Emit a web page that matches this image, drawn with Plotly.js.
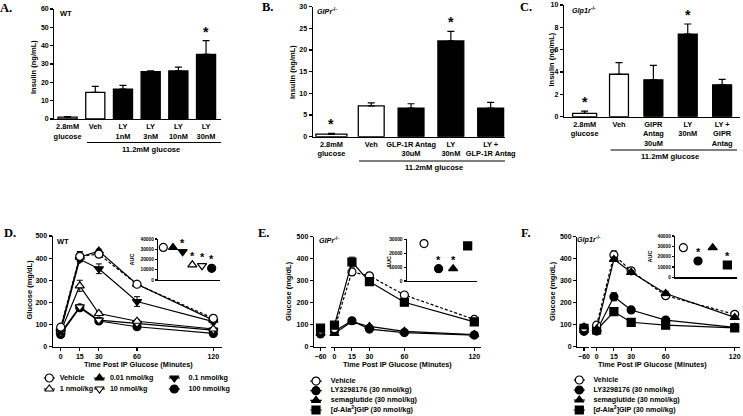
<!DOCTYPE html>
<html><head><meta charset="utf-8">
<script src="https://cdn.plot.ly/plotly-3.0.1.min.js"></script>
<style>html,body{margin:0;padding:0;background:#fff}#chart{width:743px;height:416px}</style>
</head><body><div id="chart"></div>
<script>
// ================= DATA =================
// Panel A (WT islets)
const aCategories = ['2.8mM<br>glucose','Veh','LY<br>1nM','LY<br>3nM','LY<br>10nM','LY<br>30nM'];
const aInsulin = [1.0, 14.5, 16.3, 25.8, 26.2, 35.3];
const aSem = [0.3, 3.3, 2.0, 0.4, 2.1, 7.4];
const aSignificant = [false, false, false, false, false, true];

// Panel B (GIPr-/- islets)
const bCategories = ['2.8mM<br>glucose','Veh','GLP-1R Antag<br>30uM','LY<br>30nM','LY +<br>GLP-1R Antag'];
const bInsulin = [0.6, 7.1, 6.6, 22.1, 6.6];
const bSem = [0.2, 0.7, 1.0, 2.2, 1.3];
const bSignificant = [true, false, false, true, false];

// Panel C (Glp1r-/- islets)
const cCategories = ['2.8mM<br>glucose','Veh','GIPR<br>Antag<br>30uM','LY<br>30nM','LY +<br>GIPR<br>Antag'];
const cInsulin = [0.3, 3.8, 3.3, 7.4, 2.85];
const cSem = [0.2, 1.05, 1.3, 0.9, 0.5];
const cSignificant = [true, false, false, true, false];

// Panel D (WT ipGTT)
const dTimes = [0, 15, 30, 60, 120];
const dNames = ['Vehicle','0.01 nmol/kg','0.1 nmol/kg','1 nmol/kg','10 nmol/kg','100 nmol/kg'];
const dVehicle = [88, 408, 418, 282, 128];
const dVehicleSem = [8, 22, 8, 10, 6];
const dDose001 = [82, 405, 432, 282, 120];
const dDose001Sem = [6, 18, 8, 8, 6];
const dDose01 = [72, 395, 352, 204, 113];
const dDose01Sem = [6, 12, 22, 22, 10];
const dDose1 = [68, 275, 150, 115, 80];
const dDose1Sem = [5, 25, 8, 6, 5];
const dDose10 = [62, 180, 120, 105, 75];
const dDose10Sem = [5, 8, 6, 5, 4];
const dDose100 = [55, 176, 116, 90, 60];
const dDose100Sem = [5, 8, 6, 5, 4];
const dAuc = [31800, 31700, 27600, 14800, 14000, 11400];
const dAucSem = [800, 1000, 2000, 1500, 1000, 800];
const dAucSignificant = [false, false, true, true, true, true];

// Panel E (GIPr-/- ipGTT)
const eTimes = [-60, 0, 15, 30, 60, 120];
const eNames = ['Vehicle','LY3298176 (30 nmol/kg)','semaglutide (30 nmol/kg)','[<i>d</i>-Ala<sup>2</sup>]GIP (30 nmol/kg)'];
const eVehicle = [75, 82, 340, 322, 235, 124];
const eVehicleSem = [6, 8, 15, 10, 10, 6];
const eLY = [58, 70, 118, 80, 64, 53];
const eLYSem = [6, 6, 8, 6, 5, 4];
const eSema = [62, 60, 114, 92, 70, 55];
const eSemaSem = [6, 8, 8, 6, 5, 4];
const eGIP = [84, 98, 385, 296, 202, 113];
const eGIPSem = [8, 10, 22, 18, 10, 8];
const eAuc = [26900, 8900, 8900, 25200];
const eAucSem = [800, 700, 700, 900];
const eAucSignificant = [false, true, true, false];

// Panel F (Glp1r-/- ipGTT)
const fTimes = [-60, 0, 15, 30, 60, 120];
const fNames = ['Vehicle','LY3298176 (30 nmol/kg)','semaglutide (30 nmol/kg)','[<i>d</i>-Ala<sup>2</sup>]GIP (30 nmol/kg)'];
const fVehicle = [86, 98, 417, 345, 232, 147];
const fVehicleSem = [6, 10, 18, 10, 10, 8];
const fLY = [70, 71, 227, 167, 121, 88];
const fLYSem = [6, 6, 18, 8, 8, 5];
const fSema = [90, 80, 397, 338, 242, 133];
const fSemaSem = [6, 6, 10, 8, 10, 6];
const fGIP = [83, 76, 159, 111, 98, 86];
const fGIPSem = [6, 6, 6, 5, 5, 4];
const fAuc = [28700, 15800, 28700, 11900];
const fAucSem = [900, 900, 900, 700];
const fAucSignificant = [false, true, false, true];

// ================= STYLE / LAYOUT HELPERS =================
const W = 743, H = 416;
const px = v => v / W;
const py = v => 1 - v / H;
const SANS = 'Liberation Sans, Arial, sans-serif';
const SERIF = 'Liberation Serif, Times New Roman, serif';
const tf = (s, extra) => Object.assign({family: SANS, size: s, color: '#000', weight: 700}, extra || {});

const axBase = {showgrid:false, zeroline:false, showline:true, linecolor:'#000', linewidth:1.2,
  ticks:'outside', ticklen:3, tickwidth:1.1, tickcolor:'#000', tickfont: tf(7), fixedrange:true};
const ax = o => Object.assign({}, axBase, o);
const hidden = o => Object.assign({visible:false, fixedrange:true}, o);

const data = [];
const annotations = [];
const shapes = [];

function bars(cats, vals, errs, xa, ya, widths) {
  data.push({type:'bar', x: cats, y: vals, xaxis: xa, yaxis: ya, width: widths,
    marker: {color: vals.map((v, i) => i < 2 ? '#fff' : '#000'), line: {color:'#000', width:1.3}},
    error_y: {type:'data', symmetric:false, array: errs, arrayminus: errs.map(() => 0),
      color:'#000', thickness:1.2, width:3.5},
    showlegend:false, hoverinfo:'skip'});
}
function stars(flags, vals, errs, xa, ya, size, shift) {
  flags.forEach((f, i) => {
    if (!f) return;
    annotations.push({xref: xa, yref: ya, x: i, y: vals[i] + errs[i], text:'*', showarrow:false,
      yanchor:'bottom', xanchor:'center', yshift: shift, font: tf(size)});
  });
}
function series(xs, ys, errs, xa, ya, sym, fill, dash) {
  data.push({type:'scatter', mode:'lines+markers', x: xs, y: ys, xaxis: xa, yaxis: ya,
    line: {color:'#000', width:1.2, dash: dash || 'solid'},
    marker: {symbol: sym, size: 8, color: fill, line: {color:'#000', width:1.2}},
    error_y: {type:'data', array: errs, color:'#000', thickness:1, width:3},
    cliponaxis:false, showlegend:false, hoverinfo:'skip'});
}
function brokenSeries(xs, ys, errs, xaPre, xaMain, ya, sym, fill, dash) {
  data.push({type:'scatter', mode:'markers', x: xs.slice(0, 1), y: ys.slice(0, 1), xaxis: xaPre, yaxis: ya,
    marker: {symbol: sym, size: 8, color: fill, line: {color:'#000', width:1.2}},
    error_y: {type:'data', array: errs.slice(0, 1), color:'#000', thickness:1, width:3},
    cliponaxis:false, showlegend:false, hoverinfo:'skip'});
  series(xs.slice(1), ys.slice(1), errs.slice(1), xaMain, ya, sym, fill, dash);
}
function auc(names, vals, errs, xa, ya, syms, fills) {
  data.push({type:'scatter', mode:'markers', x: names, y: vals, xaxis: xa, yaxis: ya,
    marker: {symbol: syms, size: 8, color: fills, line: {color:'#000', width:1.2}},
    error_y: {type:'data', array: errs, color:'#000', thickness:1, width:2},
    cliponaxis:false, showlegend:false, hoverinfo:'skip'});
}
// legend column: symbol with a short line through it, label pushed right by an invisible marker
function legendColumn(names, xa, ya, syms, fills, gap) {
  const xs = names.map(() => 0), ys = names.map((n, i) => i);
  data.push({type:'scatter', mode:'markers', x: xs, y: ys, xaxis: xa, yaxis: ya,
    marker: {symbol: syms, size: 8, color: fills, line: {color:'#000', width:1.2}},
    error_x: {type:'constant', value: 0.95, width:0, thickness:1.2, color:'#000'},
    cliponaxis:false, showlegend:false, hoverinfo:'skip'});
  data.push({type:'scatter', mode:'markers+text', x: xs, y: ys, text: names, textposition:'middle right',
    textfont: tf(7.2), xaxis: xa, yaxis: ya,
    marker: {size: gap, color:'rgba(0,0,0,0)', line:{width:0}},
    cliponaxis:false, showlegend:false, hoverinfo:'skip'});
}
function ann(text, x, y, font, extra) {
  annotations.push(Object.assign({text, x: px(x), y: py(y), xref:'paper', yref:'paper', showarrow:false,
    xanchor:'center', yanchor:'middle', font}, extra || {}));
}

// ================= TRACES =================
bars(aCategories, aInsulin, aSem, 'x', 'y', aInsulin.map(() => 0.69));
stars(aSignificant, aInsulin, aSem, 'x', 'y', 14, -1);
bars(bCategories, bInsulin, bSem, 'x2', 'y2', bInsulin.map((v, i) => i === 0 ? 0.78 : 0.65));
stars(bSignificant, bInsulin, bSem, 'x2', 'y2', 14, -1);
bars(cCategories, cInsulin, cSem, 'x3', 'y3', cInsulin.map((v, i) => i === 0 ? 0.70 : 0.55));
stars(cSignificant, cInsulin, cSem, 'x3', 'y3', 14, -1);

const dSymbols = ['circle','triangle-up','triangle-down','triangle-up','triangle-down','circle'];
const dFills = ['#fff','#000','#000','#fff','#fff','#000'];
const dSeries = [dVehicle, dDose001, dDose01, dDose1, dDose10, dDose100];
const dSems = [dVehicleSem, dDose001Sem, dDose01Sem, dDose1Sem, dDose10Sem, dDose100Sem];
[5, 4, 3, 2, 1, 0].forEach(i => series(dTimes, dSeries[i], dSems[i], 'x4', 'y4', dSymbols[i], dFills[i], i === 0 ? '3px,2px' : 'solid'));
auc(dNames, dAuc, dAucSem, 'x5', 'y5', dSymbols, dFills);
stars(dAucSignificant, dAuc, dAuc.map(() => 0), 'x5', 'y5', 11, 1);

const efSymbols = ['circle','circle','triangle-up','square'];
const efFills = ['#fff','#000','#000','#000'];
const eSeries = [eVehicle, eLY, eSema, eGIP];
const eSems = [eVehicleSem, eLYSem, eSemaSem, eGIPSem];
[1, 2, 0, 3].forEach(i => brokenSeries(eTimes, eSeries[i], eSems[i], 'x7', 'x6', 'y6', efSymbols[i], efFills[i], i === 0 ? '3px,2px' : 'solid'));
auc(eNames, eAuc, eAucSem, 'x8', 'y8', efSymbols, efFills);
stars(eAucSignificant, eAuc, eAuc.map(() => 0), 'x8', 'y8', 11, 1);

const fSeries = [fVehicle, fLY, fSema, fGIP];
const fSems = [fVehicleSem, fLYSem, fSemaSem, fGIPSem];
[3, 1, 0, 2].forEach(i => brokenSeries(fTimes, fSeries[i], fSems[i], 'x10', 'x9', 'y9', efSymbols[i], efFills[i], i === 0 ? '3px,2px' : 'solid'));
auc(fNames, fAuc, fAucSem, 'x11', 'y11', efSymbols, efFills);
stars(fAucSignificant, fAuc, fAuc.map(() => 0), 'x11', 'y11', 11, 1);

// legends: D in three columns of two rows, E and F single columns
const dLegendAxes = ['x12', 'x15', 'x16'];
const dLegendGaps = [15, 15, 21];
[0, 1, 2].forEach(c => {
  const idx = [c, c + 3];
  legendColumn(idx.map(i => dNames[i]), dLegendAxes[c], 'y12', idx.map(i => dSymbols[i]), idx.map(i => dFills[i]), dLegendGaps[c]);
});
legendColumn(eNames, 'x13', 'y13', efSymbols, efFills, 22);
legendColumn(fNames, 'x14', 'y14', efSymbols, efFills, 21);

// ================= ANNOTATIONS =================
const letterFont = {family: SERIF, size: 12.5, color:'#000', weight: 700};
ann('A.', 6.5, 8, letterFont);
ann('B.', 267, 7, letterFont);
ann('C.', 526, 7, letterFont);
ann('D.', 9.5, 233, letterFont);
ann('E.', 263.5, 233, letterFont);
ann('F.', 525.5, 233, letterFont);

ann('WT', 65.5, 13, tf(7.5));
ann('<i>GIPr</i><sup>-/-</sup>', 327, 11, tf(7.2));
ann('<i>Glp1r</i><sup>-/-</sup>', 584, 10, tf(7.2));
ann('WT', 63, 241, tf(7.5));
ann('<i>GIPr</i><sup>-/-</sup>', 329, 240, tf(7.2));
ann('<i>Glp1r</i><sup>-/-</sup>', 589, 239, tf(7.2));

ann('Insulin (ng/mL)', 33, 67, tf(7.5), {textangle:-90});
ann('Insulin (ng/mL)', 292, 72, tf(7.5), {textangle:-90});
ann('Insulin (ng/mL)', 551.5, 60, tf(7.5), {textangle:-90});
ann('Glucose (mg/dL)', 28.5, 290, tf(7.5), {textangle:-90});
ann('Glucose (mg/dL)', 288, 291, tf(7.5), {textangle:-90});
ann('Glucose (mg/dL)', 552, 291, tf(7.5), {textangle:-90});

ann('Time Post IP Glucose (Minutes)', 138, 364.5, tf(7.3));
ann('Time Post IP Glucose (Minutes)', 397, 364.5, tf(7.3));
ann('Time Post IP Glucose (Minutes)', 652, 364.5, tf(7.3));

ann('AUC', 131.5, 260, tf(5.5), {textangle:-90});
ann('AUC', 389, 262, tf(5.5), {textangle:-90});
ann('AUC', 649.5, 257, tf(5.5), {textangle:-90});

ann('11.2mM glucose', 150.5, 149.5, tf(7.6));
ann('11.2mM glucose', 434, 167.5, tf(7.6));
ann('11.2mM glucose', 670, 156, tf(7.6));

const uline = (x0, x1, y) => shapes.push({type:'line', xref:'paper', yref:'paper', x0: px(x0), x1: px(x1), y0: py(y), y1: py(y), line:{color:'#000', width:1.1}});
uline(87, 221, 142.5);
uline(359, 505, 161);
uline(610.5, 737, 150);

// ================= AXES =================
const catAx = o => ax(Object.assign({type:'category', ticks:'', tickfont: tf(7.4)}, o));
const legendX = (center, ya) => hidden({domain:[px(center - 6), px(center + 6)], range:[-1, 1], anchor: ya});
const layout = {
  width: W, height: H, margin: {l:0, r:0, t:0, b:0}, paper_bgcolor:'#fff', plot_bgcolor:'rgba(0,0,0,0)',
  showlegend:false, bargap:0,
  xaxis:  catAx({domain:[px(54.3), px(221)], range:[-0.48, 5.54], anchor:'y'}),
  yaxis:  ax({domain:[py(119), py(9)], range:[0, 60], dtick:10, anchor:'x'}),
  xaxis2: catAx({domain:[px(312.7), px(505)], range:[-0.47, 4.36], anchor:'y2'}),
  yaxis2: ax({domain:[py(136.7), py(6.7)], range:[0, 30], dtick:5, anchor:'x2'}),
  xaxis3: catAx({domain:[px(564), px(740)], range:[-0.6, 4.52], anchor:'y3'}),
  yaxis3: ax({domain:[py(116.7), py(5)], range:[0, 10], dtick:2, anchor:'x3'}),

  xaxis4: ax({domain:[px(52.7), px(221.7)], range:[-6.3, 126.6], tickvals: dTimes, anchor:'y4'}),
  yaxis4: ax({domain:[py(346.7), py(236)], range:[0, 500], dtick:100, anchor:'x4'}),
  xaxis5: ax({type:'category', domain:[px(158), px(220)], range:[-0.55, 5.86], ticks:'', showticklabels:false, anchor:'y5'}),
  yaxis5: ax({domain:[py(280), py(239)], range:[0, 40000], dtick:10000, tickformat:'d', ticklen:2, tickfont: tf(4.8), anchor:'x5'}),

  xaxis6: ax({domain:[px(330.5), px(480.7)], range:[-3.4, 125.5], tickvals: eTimes.slice(1), anchor:'y6'}),
  xaxis7: ax({domain:[px(312.7), px(326)], range:[-66.7, -55.3], tickvals: eTimes.slice(0, 1), anchor:'y6'}),
  yaxis6: ax({domain:[py(346.7), py(236.7)], range:[0, 500], dtick:100, anchor:'free', position: px(312.7)}),
  xaxis8: ax({type:'category', domain:[px(406.7), px(477)], range:[-1.19, 3.64], ticks:'', showticklabels:false, anchor:'y8'}),
  yaxis8: ax({domain:[py(281), py(239.3)], range:[0, 30000], dtick:10000, tickformat:'d', ticklen:2, tickfont: tf(4.8), anchor:'x8'}),

  xaxis9:  ax({domain:[px(591), px(740)], range:[-4.9, 124.6], tickvals: fTimes.slice(1), anchor:'y9'}),
  xaxis10: ax({domain:[px(576), px(589)], range:[-66.9, -55.7], tickvals: fTimes.slice(0, 1), anchor:'y9'}),
  yaxis9:  ax({domain:[py(346.7), py(236.7)], range:[0, 500], dtick:100, anchor:'free', position: px(576)}),
  xaxis11: ax({type:'category', domain:[px(675), px(737)], range:[-0.57, 3.66], ticks:'', showticklabels:false, anchor:'y11'}),
  yaxis11: ax({domain:[py(277.3), py(236)], range:[0, 40000], dtick:10000, tickformat:'d', ticklen:2, tickfont: tf(4.8), anchor:'x11'}),

  xaxis12: legendX(49.3, 'y12'),
  xaxis15: legendX(99.5, 'y12'),
  xaxis16: legendX(174.3, 'y12'),
  yaxis12: hidden({domain:[py(394.5), py(372.5)], range:[1.5, -0.5], anchor:'x12'}),
  xaxis13: legendX(316, 'y13'),
  yaxis13: hidden({domain:[py(414.8), py(376.2)], range:[3.5, -0.5], anchor:'x13'}),
  xaxis14: legendX(579.3, 'y14'),
  yaxis14: hidden({domain:[py(415), py(375)], range:[3.5, -0.5], anchor:'x14'}),

  annotations, shapes
};

Plotly.newPlot('chart', data, layout, {staticPlot:true, displayModeBar:false});
</script>
</body></html>
